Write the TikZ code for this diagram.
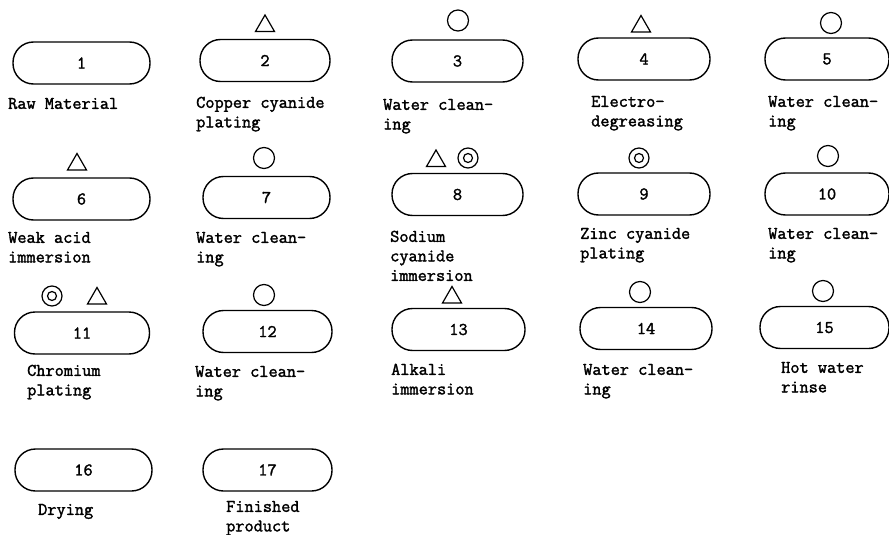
\documentclass[tikz,border=0pt]{standalone}
\usepackage{fontspec}
\newfontfamily\typewr[FakeBold=1.8]{Latin Modern Mono}
\newcommand{\typefont}{\fontsize{17.8}{19.5}\selectfont\typewr}
\begin{document}
\begin{tikzpicture}[x=1pt,y=-1pt,
  stage/.style={draw, line width=1.4pt, rounded corners=20.5pt, inner sep=0pt,
    minimum height=42pt, font=\typefont},
  lbl/.style={anchor=north west, align=left, inner sep=0pt, font=\typefont},
  symline/.style={line width=1.2pt, line join=miter},
  tri/.pic={\draw[symline] (-9.5,8) -- (9.5,8) -- (0,-8.5) -- cycle;},
  circ/.pic={\draw[symline] (0,0) circle[radius=10.5];},
  dcirc/.pic={\draw[symline] (0,0) circle[radius=10] (0,0) circle[radius=4.5];}]
\useasboundingbox (0,0) rectangle (889,535);

% ---- row 1
\node[stage, minimum width=137pt] (b1) at (81.5,63) {1};
\node[stage, minimum width=130pt] (b2) at (265,60.5) {2};
\node[stage, minimum width=131pt] (b3) at (457.5,61) {3};
\node[stage, minimum width=132pt] (b4) at (644,59) {4};
\node[stage, minimum width=124pt] (b5) at (827,59) {5};
% ---- row 2
\node[stage, minimum width=137pt] (b6) at (81.5,199) {6};
\node[stage, minimum width=127pt] (b7) at (266.5,197.5) {7};
\node[stage, minimum width=131pt] (b8) at (457.5,194.5) {8};
\node[stage, minimum width=132pt] (b9) at (644,194) {9};
\node[stage, minimum width=124pt] (b10) at (827,194) {10};
% ---- row 3
\node[stage, minimum width=135pt] (b11) at (82,333) {11};
\node[stage, minimum width=129pt] (b12) at (267.5,331.5) {12};
\node[stage, minimum width=133pt] (b13) at (458.5,329.5) {13};
\node[stage, minimum width=132pt] (b14) at (646,328.5) {14};
\node[stage, minimum width=129pt] (b15) at (824.5,327.5) {15};
% ---- row 4
\node[stage, minimum width=137pt] (b16) at (83.5,470) {16};
\node[stage, minimum width=129pt] (b17) at (267.5,470) {17};

% ---- symbols
\pic (s2) at (265,23.5) {tri};
\pic (s3) at (458,20.5) {circ};
\pic (s4) at (641,24) {tri};
\pic (s5) at (831,23) {circ};
\pic (s6) at (77,162) {tri};
\pic (s7) at (264,158) {circ};
\pic (s8a) at (436,158.5) {tri};
\pic (s8b) at (468,158) {dcirc};
\pic (s9) at (639,158) {dcirc};
\pic (s10) at (828,156) {circ};
\pic (s11a) at (52,296) {dcirc};
\pic (s11b) at (97,296) {tri};
\pic (s12) at (264,295) {circ};
\pic (s13) at (452,295) {tri};
\pic (s14) at (640,292) {circ};
\pic (s15) at (823,291) {circ};

% ---- labels (anchor at top of first-line strut)
\node[lbl] (l1) at (8,95) {\strut Raw Material};
\node[lbl] (l2) at (196,94) {\strut Copper cyanide\\plating};
\node[lbl] (l3) at (383,96) {\strut Water clean-\\ing};
\node[lbl] (l4) at (591,93) {\strut Electro-\\degreasing};
\node[lbl] (l5) at (768,93) {\strut Water clean-\\ing};
\node[lbl] (l6) at (8,229) {\strut Weak acid\\immersion};
\node[lbl] (l7) at (196,229) {\strut Water clean-\\ing};
\node[lbl] (l8) at (390,228) {\strut Sodium\\cyanide\\immersion};
\node[lbl] (l9) at (580,225) {\strut Zinc cyanide\\plating};
\node[lbl] (l10) at (768,225) {\strut Water clean-\\ing};
\node[lbl] (l11) at (27,362) {\strut Chromium\\plating};
\node[lbl] (l12) at (195,363) {\strut Water clean-\\ing};
\node[lbl] (l13) at (391,361) {\strut Alkali\\immersion};
\node[lbl] (l14) at (583,361) {\strut Water clean-\\ing};
\node[lbl] (l15) at (781,359) {\strut Hot water\\rinse};
\node[lbl] (l16) at (38,501) {\strut Drying};
\node[lbl] (l17) at (226,498) {\strut Finished\\product};
\end{tikzpicture}
\end{document}
